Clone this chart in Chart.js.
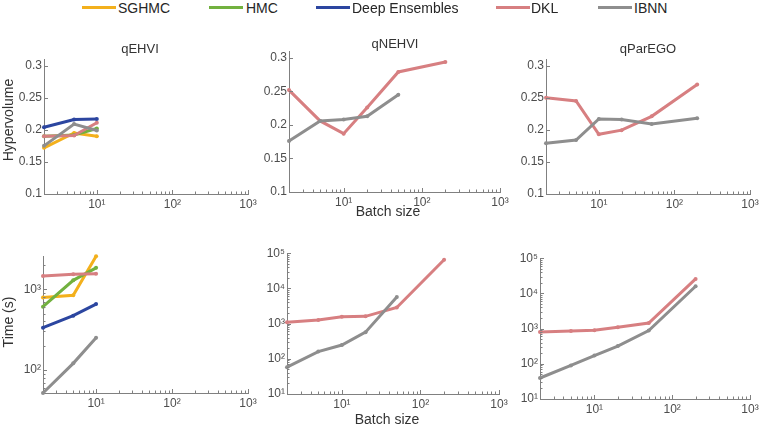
<!DOCTYPE html>
<html><head><meta charset="utf-8">
<script src="https://cdn.jsdelivr.net/npm/chart.js@4/dist/chart.umd.min.js"></script>
<style>
body{margin:0;background:#fff;width:761px;height:428px;position:relative;overflow:hidden;font-family:"Liberation Sans",Arial,sans-serif;}
canvas{position:absolute;}
.c{position:absolute;white-space:nowrap;transform:translate(-50%,-50%);color:#333;}
.lg{position:absolute;white-space:nowrap;transform:translateY(-50%);font-size:14px;color:#262626;}
.sw{position:absolute;height:3px;}
</style></head><body>
<script>
// ---------------- DATA ----------------
const batchSizes = [2, 5, 10, 20, 50, 200];
const seriesNames = ['SGHMC', 'HMC', 'Deep Ensembles', 'DKL', 'IBNN'];
const panelTitles = ['qEHVI', 'qNEHVI', 'qParEGO'];

// Hypervolume
const hvEhviSGHMC = [0.172, 0.195, 0.190];
const hvEhviHMC   = [0.190, 0.192, 0.202];
const hvEhviDE    = [0.204, 0.216, 0.217];
const hvEhviDKL   = [0.190, 0.191, 0.211];
const hvEhviIBNN  = [0.175, 0.209, 0.199];
const hvNehviDKL  = [0.252, 0.206, 0.187, 0.226, 0.279, 0.294];
const hvNehviIBNN = [0.176, 0.206, 0.208, 0.213, 0.245];
const hvParegoDKL = [0.250, 0.245, 0.193, 0.1995, 0.221, 0.2705];
const hvParegoIBNN= [0.179, 0.184, 0.217, 0.216, 0.209, 0.218];

// Time (s)
const tEhviSGHMC = [789, 843, 2560];
const tEhviHMC   = [607, 1288, 1838];
const tEhviDE    = [334, 471, 655];
const tEhviDKL   = [1456, 1527, 1552];
const tEhviIBNN  = [52, 121, 251];
const tNehviDKL  = [1090, 1270, 1570, 1606, 2870, 65000];
const tNehviIBNN = [58, 160, 247, 571, 5720];
const tParegoDKL = [806, 860, 898, 1090, 1443, 25800];
const tParegoIBNN= [39.5, 90, 171, 320, 879, 16000];

const hvTicks = [0.1, 0.15, 0.2, 0.25, 0.3];

// ---------------- STYLE ----------------
const colors = {
  'SGHMC': '#F3B01C',
  'HMC': '#72B13F',
  'Deep Ensembles': '#2C46A0',
  'DKL': '#D77F81',
  'IBNN': '#8E8E8E'
};
const FONT = '"Liberation Sans", Arial, sans-serif';
const AXIS = '#808080';
const TICKC = '#4d4d4d';
const WY = 40, HX = 24, PADT = 8, PADR = 12;
const sup = {'1':'\u00B9','2':'\u00B2','3':'\u00B3','4':'\u2074','5':'\u2075'};

function isPow10(v){ const l = Math.log10(v); return Math.abs(l - Math.round(l)) < 1e-9; }
function powLabel(v){ if(!isPow10(v)) return ''; const e = Math.round(Math.log10(v)); return '10' + sup[String(e)]; }
function logTickList(scale){
  const out = [], min = scale.min, max = scale.max;
  for (let e = Math.floor(Math.log10(min)); e <= Math.ceil(Math.log10(max)); e++) {
    for (let k = 1; k < 10; k++) {
      const v = k * Math.pow(10, e);
      if (v >= min * 0.9999 && v <= max * 1.0001) out.push({value: v});
    }
  }
  scale.ticks = out;
}

const inwardTicks = {
  id: 'inwardTicks',
  afterDraw(chart){
    const ctx = chart.ctx, a = chart.chartArea;
    ctx.save();
    ctx.strokeStyle = AXIS; ctx.lineWidth = 1;
    const xs = chart.scales.x, ys = chart.scales.y;
    xs.ticks.forEach(t => {
      const p = Math.round(xs.getPixelForValue(t.value)) + 0.5;
      if (p < a.left + 1 || p > a.right + 1) return;
      const len = isPow10(t.value) ? 4 : 2.5;
      ctx.beginPath(); ctx.moveTo(p, a.bottom); ctx.lineTo(p, a.bottom - len); ctx.stroke();
    });
    const isLog = ys.type === 'logarithmic';
    ys.ticks.forEach(t => {
      const p = Math.round(ys.getPixelForValue(t.value)) + 0.5;
      if (p < a.top - 1 || p > a.bottom - 1) return;
      const len = (!isLog || isPow10(t.value)) ? 4 : 2.5;
      ctx.beginPath(); ctx.moveTo(a.left, p); ctx.lineTo(a.left + len, p); ctx.stroke();
    });
    ctx.restore();
  }
};

function mkDatasets(list){
  return list.map(([name, vals]) => {
    const i = seriesNames.indexOf(name);
    return {
      label: name,
      data: vals.map((v, j) => ({x: batchSizes[j], y: v})),
      borderColor: colors[name],
      backgroundColor: colors[name],
      pointBackgroundColor: colors[name],
      pointBorderWidth: 0,
      pointRadius: 2,
      borderWidth: 3,
      tension: 0,
      order: -i,
      clip: 6
    };
  });
}

function makePanel(area, datasets, yType, yMin, yMax){
  const cv = document.createElement('canvas');
  const w = (area.r - area.l) + WY + PADR;
  const h = (area.b - area.t) + PADT + HX;
  cv.width = w; cv.height = h;
  cv.style.left = (area.l - WY) + 'px';
  cv.style.top = (area.t - PADT) + 'px';
  cv.style.width = w + 'px'; cv.style.height = h + 'px';
  document.body.appendChild(cv);
  const yScale = {
    type: yType, min: yMin, max: yMax,
    afterFit: s => { s.width = WY; },
    grid: {display: false, drawTicks: false},
    border: {display: true, color: AXIS, width: 1},
    ticks: {
      color: TICKC, font: {family: FONT, size: 12}, padding: 2, autoSkip: false,
      callback: v => yType === 'logarithmic' ? powLabel(v) : String(+Number(v).toFixed(2))
    },
    afterBuildTicks: yType === 'logarithmic' ? logTickList : (s => { s.ticks = hvTicks.map(v => ({value: v})); })
  };
  new Chart(cv, {
    type: 'line',
    data: {datasets},
    options: {
      responsive: false, animation: false, devicePixelRatio: 1,
      layout: {padding: {top: PADT, right: PADR, left: 0, bottom: 0}},
      plugins: {legend: {display: false}, tooltip: {enabled: false}, title: {display: false}},
      scales: {
        x: {
          type: 'logarithmic', min: 2, max: 1000,
          afterFit: s => { s.height = HX; },
          grid: {display: false, drawTicks: false},
          border: {display: true, color: AXIS, width: 1},
          ticks: {color: TICKC, font: {family: FONT, size: 12}, padding: 3, autoSkip: false, maxRotation: 0, minRotation: 0, callback: v => powLabel(v)},
          afterBuildTicks: logTickList
        },
        y: yScale
      }
    },
    plugins: [inwardTicks]
  });
}

// Top row: hypervolume
makePanel({l:44, t:58, r:248, b:194}, mkDatasets([
  ['SGHMC', hvEhviSGHMC], ['HMC', hvEhviHMC], ['Deep Ensembles', hvEhviDE], ['DKL', hvEhviDKL], ['IBNN', hvEhviIBNN]
]), 'linear', 0.1, 0.31);
makePanel({l:289, t:50, r:500, b:192}, mkDatasets([
  ['DKL', hvNehviDKL], ['IBNN', hvNehviIBNN]
]), 'linear', 0.1, 0.31);
makePanel({l:546, t:58, r:750, b:194}, mkDatasets([
  ['DKL', hvParegoDKL], ['IBNN', hvParegoIBNN]
]), 'linear', 0.1, 0.31);

// Bottom row: time
makePanel({l:43, t:255, r:248, b:393}, mkDatasets([
  ['SGHMC', tEhviSGHMC], ['HMC', tEhviHMC], ['Deep Ensembles', tEhviDE], ['DKL', tEhviDKL], ['IBNN', tEhviIBNN]
]), 'logarithmic', 52, 2560);
makePanel({l:287, t:252, r:499, b:394}, mkDatasets([
  ['DKL', tNehviDKL], ['IBNN', tNehviIBNN]
]), 'logarithmic', 10, 100000);
makePanel({l:540, t:257, r:750, b:399}, mkDatasets([
  ['DKL', tParegoDKL], ['IBNN', tParegoIBNN]
]), 'logarithmic', 10, 100000);

// ---------------- TEXT ----------------
function addText(txt, x, y, size, extra){
  const d = document.createElement('div');
  d.className = 'c'; d.textContent = txt;
  d.style.left = x + 'px'; d.style.top = y + 'px'; d.style.fontSize = size + 'px';
  if (extra) d.style.transform = extra;
  document.body.appendChild(d);
}
addText(panelTitles[0], 140, 48, 13);
addText(panelTitles[1], 395, 43, 13);
addText(panelTitles[2], 648, 48, 13);
addText('Hypervolume', 8, 120, 14, 'translate(-50%,-50%) rotate(-90deg)');
addText('Time (s)', 8, 322, 14, 'translate(-50%,-50%) rotate(-90deg)');
addText('Batch size', 388, 211, 14);
addText('Batch size', 387, 419, 14);

// Legend
const legendPos = [[82, 118], [209, 246], [316, 352], [496, 531], [598, 634]];
seriesNames.forEach((n, i) => {
  const sw = document.createElement('div');
  sw.className = 'sw';
  sw.style.left = legendPos[i][0] + 'px'; sw.style.width = '34px'; sw.style.top = '6px';
  sw.style.background = colors[n];
  document.body.appendChild(sw);
  const t = document.createElement('div');
  t.className = 'lg'; t.textContent = n;
  t.style.left = legendPos[i][1] + 'px'; t.style.top = '8px';
  document.body.appendChild(t);
});
</script>
</body></html>
